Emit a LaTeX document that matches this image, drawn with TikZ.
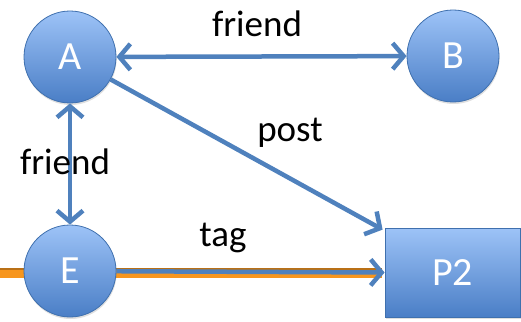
\documentclass[tikz,border=0pt]{standalone}
\usepackage{fontspec}
\setmainfont{Carlito}
\usetikzlibrary{arrows.meta,shadows}
\definecolor{edgeblue}{HTML}{4F81BD}
\definecolor{nodetop}{HTML}{9DC3F7}
\definecolor{nodebot}{HTML}{4A7EC6}
\definecolor{nodeline}{HTML}{3F70AE}
\definecolor{tagorange}{HTML}{F7961E}
\tikzset{
  vertex/.style={circle, minimum size=92pt, inner sep=0pt, draw=nodeline, line width=0.8pt,
    top color=nodetop, bottom color=nodebot, text=white, font=\fontsize{40}{40}\selectfont,
    drop shadow={opacity=0.25, shadow xshift=0.6pt, shadow yshift=-2pt}},
  postbox/.style={rectangle, minimum width=135pt, minimum height=89pt, inner sep=0pt, draw=nodeline,
    line width=0.8pt, top color=nodetop, bottom color=nodebot, text=white,
    font=\fontsize{40}{40}\selectfont,
    drop shadow={opacity=0.25, shadow xshift=0.6pt, shadow yshift=-2pt}},
  link/.style={draw=edgeblue, line width=4.5pt,
    arrows={-Straight Barb[length=11pt,width=26pt]}},
  duallink/.style={link, arrows={Straight Barb[length=11pt,width=26pt]-Straight Barb[length=11pt,width=26pt]}},
  lbl/.style={font=\fontsize{37}{37}\selectfont, text=black, inner sep=0pt}
}
\begin{document}
\begin{tikzpicture}[x=1pt,y=-1pt]
  \useasboundingbox (0,0) rectangle (521,321);
  % tag trail running in from the left edge
  \coordinate (lft) at (0,272.5);
  \coordinate (tagend) at (382,272.5);
  \draw[tagorange!75!black, line width=10pt] (lft) -- (tagend);
  \draw[tagorange, line width=8pt] ([yshift=-1pt]lft) -- ([yshift=-1pt]tagend);

  \node[vertex] (A) at (70,57) {A};
  \node[vertex] (B) at (453,56) {B};
  \node[vertex] (E) at (70,271) {E};
  \node[postbox] (P2) at (452.5,272.5) {P2};

  \draw[duallink] (A) -- (B);
  \draw[duallink] (A) -- (E);
  \draw[link] (A) -- ([xshift=-2pt,yshift=-2pt]P2.north west);
  \draw[link] (E) -- (P2.west);

  \node[lbl] (lf1) at (257,24) {friend};
  \node[lbl] (lp) at (290,133) {post};
  \node[lbl] (lf2) at (65,162) {friend};
  \node[lbl] (lt) at (223,238) {tag};
\end{tikzpicture}
\end{document}
